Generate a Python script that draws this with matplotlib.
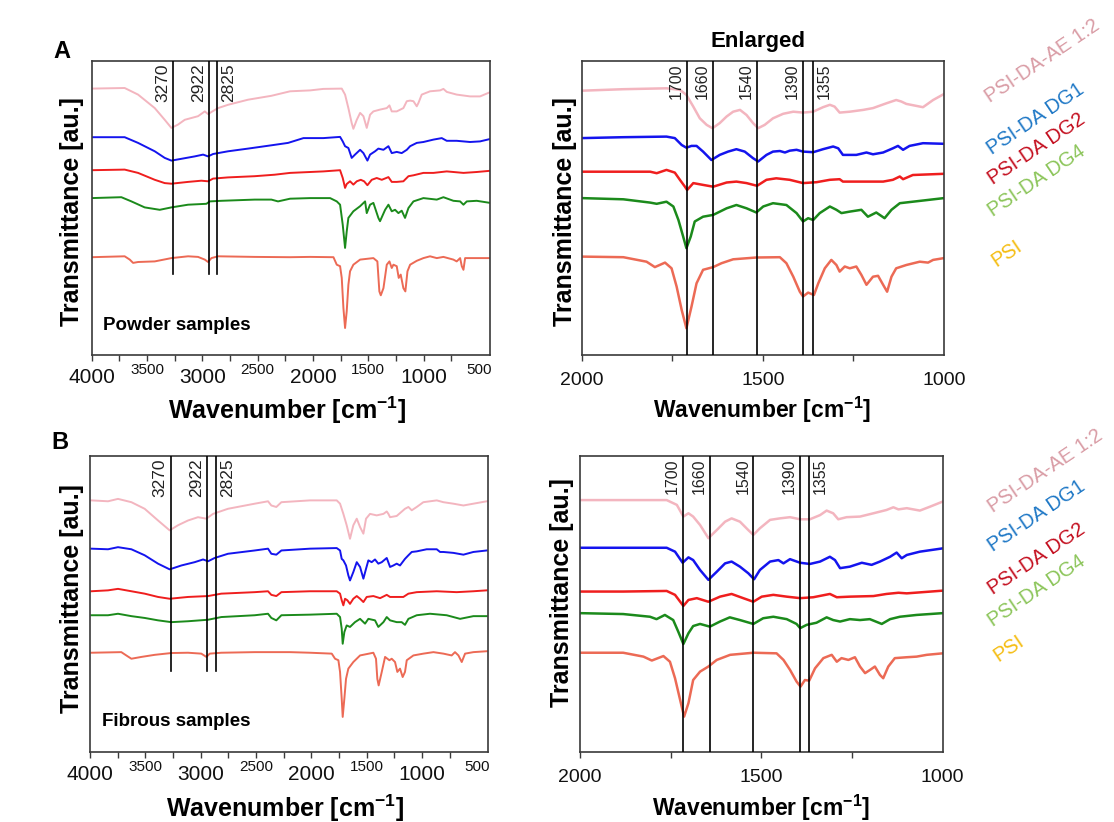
import matplotlib
matplotlib.use("Agg")
import matplotlib.pyplot as plt

plt.rcParams['font.family'] = ['Liberation Sans', 'DejaVu Sans']
plt.rcParams['mathtext.fontset'] = 'custom'
plt.rcParams['mathtext.rm'] = 'Liberation Sans'
plt.rcParams['mathtext.bf'] = 'Liberation Sans:bold'

# ---------------- powder samples, full range (panel A, left) ----------------
pw_ae_x = [4003, 3702, 3581, 3430, 3340, 3280, 3220, 3159, 3099, 3039, 2978, 2948, 2918, 2858, 2768, 2587, 2376,
           2207, 2026, 1906, 1740, 1710, 1680, 1650, 1635, 1604, 1574, 1544, 1514, 1484, 1454, 1394, 1333, 1309,
           1288, 1243, 1183, 1152, 1122, 1092, 1062, 1047, 1017, 942, 851, 821, 791, 701, 580, 490, 400]
pw_ae_y = [89.8, 90.0, 87.8, 83.3, 79.4, 76.7, 77.8, 79.4, 80.0, 80.6, 82.2, 81.3, 82.0, 83.3, 84.4, 86.1, 87.4,
           88.9, 89.2, 89.7, 89.8, 87.8, 83.3, 78.3, 76.4, 79.4, 81.7, 80.6, 76.7, 81.1, 82.2, 82.8, 83.3, 84.2,
           82.2, 82.2, 83.3, 85.6, 85.8, 85.6, 83.9, 85.0, 87.8, 88.9, 89.2, 89.7, 88.7, 87.8, 87.2, 87.2, 88.6]

pw_dg1_x = [4003, 3702, 3581, 3430, 3340, 3280, 3189, 3069, 2993, 2948, 2903, 2768, 2587, 2376, 2225,
            2086, 1906, 1755, 1731, 1710, 1680, 1650, 1620, 1574, 1544, 1508, 1484, 1439, 1409, 1363, 1318,
            1288, 1243, 1198, 1152, 1122, 1062, 1002, 911, 836, 791, 701, 580, 490, 399]
pw_dg1_y = [73.6, 73.6, 71.7, 68.9, 66.7, 65.8, 66.4, 67.2, 67.8, 67.2, 68.0, 68.9, 69.8, 70.9, 71.7,
            73.3, 73.3, 73.7, 72.2, 70.6, 70.0, 66.7, 67.8, 69.4, 68.3, 65.8, 67.8, 68.9, 69.8, 69.4, 70.6,
            68.3, 68.7, 68.3, 69.4, 70.6, 71.7, 72.0, 72.8, 73.3, 72.4, 72.4, 72.0, 72.2, 73.0]

pw_dg2_x = [4003, 3702, 3581, 3430, 3340, 3280, 3129, 3009, 2948, 2903, 2768, 2527, 2346,
            2207, 2026, 1906, 1755, 1731, 1710, 1695, 1665, 1635, 1604, 1568, 1538, 1508, 1469, 1424, 1378,
            1318, 1288, 1243, 1183, 1137, 1092, 1002, 911, 791, 640, 520, 399]
pw_dg2_y = [62.6, 62.8, 61.7, 59.4, 58.3, 58.1, 58.7, 59.1, 58.9, 59.8, 60.2, 60.6, 61.1,
            61.7, 62.0, 62.2, 62.6, 60.0, 56.7, 58.0, 58.9, 57.8, 58.9, 59.4, 58.9, 57.6, 59.4, 60.0, 59.4,
            60.3, 58.7, 58.7, 58.9, 60.6, 60.9, 61.7, 61.7, 62.2, 61.7, 62.0, 62.4]

pw_dg4_x = [4003, 3732, 3641, 3521, 3385, 3280, 3129, 2963, 2933, 2828, 2527, 2376, 2316,
            2207, 2026, 1845, 1785, 1755, 1731, 1710, 1695, 1680, 1635, 1574, 1529, 1514, 1484, 1454, 1409,
            1394, 1348, 1318, 1288, 1258, 1228, 1198, 1168, 1137, 1092, 1002, 881, 821, 731, 670, 640, 610,
            520, 399]
pw_dg4_y = [53.3, 53.6, 52.2, 50.2, 49.4, 50.2, 51.1, 51.4, 52.2, 52.4, 52.8, 52.8, 52.2,
            53.1, 53.3, 53.3, 52.2, 51.1, 44.4, 36.7, 42.2, 46.7, 48.9, 50.6, 52.2, 48.3, 51.1, 51.7, 46.7,
            45.6, 49.4, 51.1, 48.9, 49.4, 48.3, 49.1, 46.7, 50.0, 52.2, 53.3, 52.8, 53.6, 52.4, 52.2, 51.1, 52.2,
            52.4, 51.7]

pw_psi_x = [4003, 3702, 3656, 3626, 3581, 3430, 3280, 3129, 3039, 2978, 2948, 2918, 2858, 2527,
            2207, 2026, 1815, 1785, 1755, 1740, 1725, 1710, 1695, 1680, 1665, 1635, 1574, 1454, 1418, 1400,
            1387, 1363, 1333, 1309, 1288, 1273, 1243, 1225, 1207, 1183, 1165, 1146, 1122, 1062, 1002, 942,
            881, 821, 731, 701, 670, 655, 640, 625, 520, 399]
pw_psi_y = [33.6, 33.9, 32.8, 31.7, 32.0, 32.2, 33.3, 33.9, 33.7, 32.8, 32.0, 33.3, 33.9, 33.7,
            33.6, 33.7, 33.6, 31.1, 30.6, 26.7, 16.7, 10.0, 15.6, 24.4, 28.9, 31.1, 32.8, 33.3, 32.2, 22.2,
            20.9, 23.3, 31.1, 32.2, 30.0, 31.1, 30.6, 26.7, 27.8, 23.3, 22.2, 28.9, 31.1, 32.4, 33.3, 33.9,
            33.3, 33.7, 32.8, 32.2, 33.3, 30.6, 29.4, 33.3, 33.3, 33.3]

# ---------------- powder samples, 2000-1000 (panel A, right) ----------------
pz_ae_x = [2000, 1885, 1766, 1729, 1711, 1692, 1674, 1655, 1639, 1619, 1600, 1582, 1563, 1545, 1527, 1513, 1495,
           1472, 1444, 1416, 1389, 1361, 1334, 1315, 1302, 1288, 1260, 1223, 1196, 1159, 1132, 1118, 1104, 1058,
           1030, 1000]
pz_ae_y = [76.4, 76.9, 77.2, 76.7, 75.0, 71.1, 67.2, 65.0, 63.9, 65.6, 67.8, 69.4, 70.0, 68.3, 65.6, 63.9, 65.0,
           67.2, 68.7, 69.4, 69.1, 69.4, 70.9, 71.7, 71.1, 69.1, 69.4, 70.0, 70.6, 72.2, 73.3, 72.8, 72.0, 70.9,
           73.3, 75.3]

pz_dg1_x = [2000, 1885, 1766, 1743, 1724, 1711, 1697, 1683, 1665, 1642, 1619, 1596, 1573, 1550, 1527, 1513, 1490,
            1472, 1453, 1439, 1426, 1407, 1389, 1361, 1334, 1306, 1292, 1279, 1242, 1214, 1196, 1168, 1141, 1127,
            1113, 1095, 1058, 1000]
pz_dg1_y = [60.6, 60.9, 61.1, 60.6, 58.3, 57.4, 58.0, 58.0, 56.1, 53.3, 55.0, 56.1, 56.9, 56.1, 53.9, 52.8, 55.0,
            56.1, 56.3, 55.8, 56.4, 56.7, 56.1, 55.9, 56.9, 57.8, 57.2, 55.0, 55.0, 55.8, 55.2, 55.8, 57.2, 58.0,
            56.7, 58.0, 58.9, 58.7]

pz_dg2_x = [2000, 1885, 1811, 1793, 1766, 1743, 1729, 1715, 1709, 1692, 1665, 1637, 1600, 1573, 1545, 1516, 1490,
            1463, 1426, 1389, 1352, 1315, 1288, 1279, 1233, 1168, 1141, 1122, 1113, 1086, 1000]
pz_dg2_y = [49.4, 49.4, 49.4, 48.9, 50.0, 49.1, 46.7, 44.4, 43.3, 45.6, 45.0, 44.4, 45.8, 46.1, 45.6, 44.7, 46.7,
            47.2, 46.7, 45.6, 45.9, 46.7, 46.9, 46.1, 46.1, 46.1, 46.7, 47.8, 46.9, 48.3, 48.7]

pz_dg4_x = [2000, 1885, 1811, 1793, 1766, 1747, 1733, 1720, 1711, 1699, 1688, 1665, 1637, 1600, 1573, 1545, 1518,
            1499, 1472, 1435, 1407, 1389, 1375, 1361, 1343, 1315, 1297, 1283, 1260, 1228, 1210, 1187, 1164, 1145,
            1122, 1086, 1000]
pz_dg4_y = [40.6, 40.2, 39.1, 38.7, 39.4, 37.8, 33.3, 27.8, 23.9, 27.8, 32.8, 34.4, 35.0, 37.2, 38.3, 37.2, 35.8,
            37.8, 38.9, 38.3, 35.6, 32.8, 33.9, 33.3, 35.6, 37.8, 36.7, 35.6, 36.1, 36.7, 34.4, 35.8, 33.9, 36.7,
            38.9, 39.4, 40.6]

pz_psi_x = [2000, 1885, 1821, 1798, 1770, 1752, 1738, 1724, 1711, 1697, 1683, 1665, 1637, 1614, 1582, 1518, 1453,
            1435, 1416, 1398, 1389, 1375, 1359, 1347, 1329, 1311, 1297, 1288, 1274, 1260, 1242, 1228, 1214, 1196,
            1182, 1168, 1157, 1145, 1132, 1104, 1067, 1044, 1030, 1000]
pz_psi_y = [21.1, 20.9, 19.4, 17.6, 19.1, 17.2, 11.1, 3.3, -2.8, 4.4, 12.2, 16.7, 17.6, 18.9, 20.2, 20.8, 20.9,
            18.9, 14.4, 9.4, 7.8, 9.1, 8.3, 12.2, 17.2, 20.0, 18.3, 16.1, 17.8, 17.2, 17.8, 15.0, 11.7, 14.4,
            14.7, 11.7, 9.4, 14.4, 17.2, 18.3, 19.4, 19.1, 20.0, 20.6]

# ---------------- fibrous samples, full range (panel B, left) ----------------
fw_ae_x = [3988, 3837, 3747, 3626, 3506, 3385, 3280, 3205, 3114, 3024, 2948, 2888, 2753, 2511, 2391, 2361, 2316,
           2270, 2011, 1770, 1740, 1710, 1680, 1650, 1620, 1589, 1559, 1529, 1505, 1469, 1409, 1348, 1318, 1303,
           1288, 1228, 1153, 1122, 1092, 1047, 987, 866, 806, 716, 625, 535, 414]
fw_ae_y = [83.9, 83.6, 84.4, 83.3, 81.1, 77.2, 73.9, 75.6, 77.2, 78.3, 77.8, 79.4, 81.1, 82.8, 83.6, 82.2, 81.7,
           83.3, 83.9, 83.9, 82.8, 79.4, 75.6, 71.1, 75.6, 77.8, 75.0, 72.8, 77.8, 79.4, 78.9, 79.4, 80.2, 79.4,
           78.3, 78.7, 81.1, 81.7, 80.6, 81.7, 83.3, 83.9, 83.3, 82.8, 82.2, 82.8, 83.6]

fw_dg1_x = [3988, 3837, 3747, 3626, 3506, 3385, 3280, 3174, 3054, 2978, 2933, 2873, 2753, 2511, 2391, 2361, 2316,
            2270, 2011, 1770, 1740, 1725, 1710, 1686, 1665, 1650, 1620, 1589, 1559, 1529, 1505, 1484, 1454, 1424,
            1394, 1363, 1318, 1288, 1258, 1228, 1198, 1153, 1122, 1092, 1047, 957, 866, 836, 806, 716, 625, 535,
            414]
fw_dg1_y = [67.8, 67.6, 68.3, 67.6, 65.6, 62.8, 60.9, 62.2, 63.3, 64.2, 63.6, 64.7, 66.1, 67.2, 67.8, 66.1, 65.8,
            67.2, 67.8, 68.0, 67.2, 64.4, 63.9, 62.2, 58.9, 57.2, 60.0, 63.3, 61.7, 57.8, 61.1, 63.9, 63.3, 64.2,
            62.8, 63.3, 64.7, 61.7, 62.2, 62.8, 62.2, 64.4, 65.6, 66.7, 66.9, 67.6, 67.6, 66.7, 66.7, 66.4, 65.8,
            66.7, 67.2]

fw_dg2_x = [3988, 3837, 3747, 3626, 3506, 3385, 3280, 3114, 2933, 2813, 2511, 2391, 2361, 2316, 2270,
            2011, 1770, 1740, 1725, 1710, 1695, 1674, 1650, 1620, 1589, 1559, 1529, 1499, 1439, 1378, 1318,
            1288, 1228, 1168, 1122, 1047, 866, 686, 535, 414]
fw_dg2_y = [53.6, 53.9, 54.4, 53.6, 52.8, 51.7, 51.1, 51.7, 52.0, 52.8, 53.3, 53.6, 52.4, 52.0, 53.3,
            53.6, 53.6, 52.8, 50.6, 48.9, 51.1, 50.6, 49.4, 51.1, 52.0, 51.1, 50.0, 51.7, 52.0, 51.3, 52.4,
            51.7, 51.7, 51.7, 52.8, 53.3, 53.6, 53.3, 53.6, 53.9]

fw_dg4_x = [3988, 3837, 3747, 3626, 3506, 3385, 3265, 3114, 2933, 2813, 2511, 2391, 2361, 2316, 2270,
            2011, 1770, 1740, 1725, 1716, 1701, 1680, 1650, 1605, 1559, 1514, 1484, 1424, 1394, 1348, 1318,
            1288, 1228, 1183, 1153, 1122, 1047, 927, 776, 655, 535, 414]
fw_dg4_y = [45.6, 45.6, 46.1, 45.3, 44.7, 43.9, 43.3, 43.6, 44.1, 45.0, 45.6, 46.1, 44.7, 43.9, 45.6,
            45.8, 46.1, 45.0, 41.1, 36.1, 40.0, 42.2, 41.7, 43.3, 44.4, 42.8, 44.4, 43.9, 41.7, 43.3, 45.0,
            43.9, 43.3, 43.3, 42.4, 44.4, 45.6, 46.1, 45.6, 44.4, 45.3, 45.3]

fw_psi_x = [3988, 3717, 3672, 3626, 3536, 3415, 3265, 3114, 2994, 2948, 2918, 2813, 2511,
            2192, 2011, 1815, 1785, 1755, 1740, 1725, 1716, 1701, 1686, 1665, 1620, 1559, 1439, 1415, 1403,
            1391, 1363, 1333, 1312, 1294, 1273, 1243, 1222, 1198, 1174, 1153, 1137, 1077, 987, 896, 806, 731,
            701, 670, 640, 610, 535, 414]
fw_psi_y = [33.1, 33.3, 32.2, 31.1, 31.7, 32.4, 33.0, 33.1, 32.8, 31.7, 32.8, 33.1, 33.3,
            33.3, 33.1, 32.8, 31.1, 30.6, 26.7, 17.8, 11.7, 17.8, 24.4, 27.8, 30.0, 32.2, 33.1, 31.1, 24.4,
            22.2, 26.7, 31.7, 31.1, 30.6, 31.1, 30.0, 26.7, 27.8, 25.0, 26.7, 30.6, 32.2, 32.8, 33.3, 32.8, 32.2,
            33.3, 32.2, 30.0, 32.8, 33.3, 33.6]

# ---------------- fibrous samples, 2000-1000 (panel B, right) ----------------
fz_ae_x = [2000, 1881, 1761, 1733, 1715, 1701, 1688, 1669, 1646, 1623, 1600, 1582, 1559, 1536, 1522, 1504, 1476,
           1449, 1421, 1393, 1366, 1338, 1320, 1302, 1288, 1265, 1228, 1191, 1155, 1136, 1122, 1099, 1063, 1035,
           1000]
fz_ae_y = [73.3, 73.3, 73.3, 71.7, 67.8, 68.9, 67.8, 65.0, 60.6, 63.3, 66.1, 67.2, 66.1, 63.3, 61.7, 63.9, 66.7,
           67.2, 67.6, 66.9, 66.9, 68.3, 69.8, 68.9, 66.9, 67.6, 67.8, 68.9, 70.0, 70.9, 70.2, 70.6, 69.8, 71.1,
           72.8]

fz_dg1_x = [2000, 1881, 1761, 1738, 1717, 1701, 1688, 1669, 1646, 1623, 1600, 1582, 1559, 1536, 1520, 1504, 1476,
            1453, 1439, 1421, 1393, 1366, 1338, 1311, 1297, 1283, 1256, 1223, 1196, 1173, 1145, 1127, 1113, 1099,
            1063, 1000]
fz_dg1_y = [57.4, 57.4, 57.4, 56.1, 52.4, 54.2, 53.3, 50.0, 46.7, 49.4, 52.2, 52.8, 51.1, 48.9, 46.9, 50.0, 52.8,
            53.3, 52.2, 53.6, 52.4, 52.0, 52.8, 54.4, 53.3, 50.6, 51.1, 52.4, 51.7, 52.8, 54.4, 55.8, 53.9, 55.0,
            56.1, 57.2]

fz_dg2_x = [2000, 1881, 1761, 1738, 1715, 1701, 1678, 1646, 1614, 1582, 1550, 1522, 1499, 1467, 1430, 1393, 1357,
            1311, 1292, 1256, 1191, 1155, 1122, 1099, 1000]
fz_dg2_y = [42.8, 42.8, 43.0, 41.7, 38.0, 40.0, 40.6, 39.4, 41.1, 42.0, 40.6, 39.4, 41.1, 41.7, 41.1, 40.6, 40.9,
            42.0, 40.9, 41.1, 41.3, 42.0, 42.4, 42.2, 43.1]

fz_dg4_x = [2000, 1881, 1807, 1789, 1766, 1743, 1729, 1715, 1701, 1688, 1669, 1642, 1614, 1587, 1559, 1522, 1495,
            1467, 1430, 1403, 1393, 1375, 1348, 1320, 1302, 1283, 1256, 1228, 1201, 1168, 1145, 1118, 1072, 1000]
fz_dg4_y = [35.6, 35.3, 34.4, 33.6, 35.0, 33.3, 29.4, 25.3, 28.9, 31.3, 32.0, 31.1, 32.8, 34.2, 33.3, 32.0, 33.9,
            34.4, 33.6, 32.0, 30.6, 31.7, 32.4, 34.2, 33.3, 32.8, 33.6, 33.3, 33.6, 32.0, 33.6, 34.4, 35.0, 35.6]

fz_psi_x = [2000, 1881, 1825, 1802, 1770, 1752, 1738, 1724, 1713, 1701, 1688, 1669, 1646, 1623, 1586, 1522, 1458,
            1439, 1421, 1403, 1392, 1380, 1368, 1352, 1329, 1306, 1292, 1279, 1260, 1242, 1228, 1214, 1200, 1187,
            1173, 1164, 1150, 1132, 1099, 1072, 1044, 1000]
fz_psi_y = [22.4, 22.4, 21.1, 19.8, 21.3, 19.4, 13.9, 6.7, 1.1, 5.6, 13.3, 16.1, 17.8, 20.0, 21.7, 22.4, 22.2,
            20.0, 16.7, 12.8, 11.1, 13.3, 13.1, 17.2, 20.6, 21.7, 19.4, 20.6, 20.0, 20.9, 17.8, 15.6, 16.7, 17.8,
            15.0, 13.9, 17.8, 20.6, 20.9, 21.1, 21.7, 22.2]

# marker lines (drawn where they sit in the figure) and their labels
wide_peaks_a = [3265, 2942, 2864]
wide_peaks_b = [3271, 2942, 2858]
wide_peak_labels = ["3270", "2922", "2825"]
zoom_peaks_a = [1710, 1637, 1516, 1389, 1361]
zoom_peaks_b = [1717, 1642, 1522, 1393, 1368]
zoom_peak_labels = ["1700", "1660", "1540", "1390", "1355"]

wide_major_ticks = [4000, 3000, 2000, 1000]
wide_minor_ticks = [3500, 2500, 1500, 500]
zoom_tick_labels = [2000, 1500, 1000]

samples = ["PSI-DA-AE 1:2", "PSI-DA DG1", "PSI-DA DG2", "PSI-DA DG4", "PSI"]
line_colors = ['#f3b5bf', '#1414ee', '#ef1e1e', '#1b8a1b', '#ec6a55']
label_colors = ['#d99ca5', '#1f78c6', '#c40f1f', '#8cc55a', '#f5bd12']

W, H = 1114, 822
fig = plt.figure(figsize=(W / 100, H / 100), dpi=100)
fig.patch.set_facecolor('white')


def px_axes(left, top, right, bottom):
    return fig.add_axes([left / W, 1 - bottom / H, (right - left) / W, (bottom - top) / H])


def base_style(ax, xlim, ylim, step):
    ax.set_xlim(*xlim)
    ax.set_ylim(*ylim)
    ax.set_yticks([])
    ax.set_xticks(list(range(xlim[0], xlim[1] if xlim[1] % step == 0 else xlim[1] + 100, -step)))
    ax.tick_params(axis='x', direction='out', length=4, width=1, color='#3a3a3a', labelbottom=False)
    for s in ax.spines.values():
        s.set_color('#3a3a3a')
        s.set_linewidth(1.2)


def peak_lines(ax, peaks, labels, ymin, fs):
    # the last label of each group sits to the right of its line
    for i, (p, lab) in enumerate(zip(peaks, labels)):
        ax.axvline(p, ymin=ymin, ymax=1, color='black', lw=1.2, zorder=3)
        right = i == len(peaks) - 1
        ax.annotate(lab, xy=(p, 1), xycoords=('data', 'axes fraction'),
                    xytext=(4 if right else -3, -3), textcoords='offset pixels', rotation=90,
                    ha='left' if right else 'right', va='top', fontsize=fs, color='#222222')


def tick_text(ax, values, size, off):
    for v in values:
        ax.annotate(str(v), xy=(v, 0), xycoords=('data', 'axes fraction'), xytext=(0, -off),
                    textcoords='offset pixels', ha='center', va='top', fontsize=size, color='#111111')


def wide_panel(ax, curves, peaks, ylim, ylab_pos, xlab_pos, note, note_y):
    for (x, y), c in zip(curves, line_colors):
        ax.plot(x, y, color=c, lw=1.4)
    base_style(ax, (4000, 400), ylim, 250)
    peak_lines(ax, peaks, wide_peak_labels, 0.274, 12.5)
    tick_text(ax, wide_major_ticks, 15, 13)
    tick_text(ax, wide_minor_ticks, 11, 8)
    ax.text(ylab_pos[0], ylab_pos[1], "Transmittance [au.]", transform=ax.transAxes, rotation=90,
            ha='center', va='center', fontsize=18, fontweight='bold')
    ax.text(xlab_pos[0], xlab_pos[1], r"Wavenumber [cm$^{\mathbf{-1}}$]", transform=ax.transAxes,
            ha='center', va='center', fontsize=18, fontweight='bold')
    ax.text(0.029, note_y, note, transform=ax.transAxes, ha='left', va='center',
            fontsize=13.5, fontweight='bold')


def zoom_panel(ax, curves, peaks, ylim, ylab_pos, xlab_pos):
    for (x, y), c in zip(curves, line_colors):
        ax.plot(x, y, color=c, lw=1.8)
    base_style(ax, (2000, 1000), ylim, 250)
    peak_lines(ax, peaks, zoom_peak_labels, 0, 11.5)
    tick_text(ax, zoom_tick_labels, 14, 17)
    ax.text(ylab_pos[0], ylab_pos[1], "Transmittance [au.]", transform=ax.transAxes, rotation=90,
            ha='center', va='center', fontsize=18, fontweight='bold')
    ax.text(xlab_pos[0], xlab_pos[1], r"Wavenumber [cm$^{\mathbf{-1}}$]", transform=ax.transAxes,
            ha='center', va='center', fontsize=16.5, fontweight='bold')


def side_labels(anchors):
    for (x, y), name, c in zip(anchors, samples, label_colors):
        fig.text(x / W, 1 - y / H, name, rotation=34, rotation_mode='anchor', ha='left',
                 va='baseline', fontsize=14.5, color=c)


ax_tl = px_axes(91.7, 60.7, 490, 355)
wide_panel(ax_tl,
           [(pw_ae_x, pw_ae_y), (pw_dg1_x, pw_dg1_y), (pw_dg2_x, pw_dg2_y), (pw_dg4_x, pw_dg4_y),
            (pw_psi_x, pw_psi_y)],
           wide_peaks_a, (1, 99.1), (-0.05, 0.487), (0.49, -0.187), "Powder samples", 0.10)

ax_tr = px_axes(581.7, 60.7, 944, 355)
zoom_panel(ax_tr,
           [(pz_ae_x, pz_ae_y), (pz_dg1_x, pz_dg1_y), (pz_dg2_x, pz_dg2_y), (pz_dg4_x, pz_dg4_y),
            (pz_psi_x, pz_psi_y)],
           zoom_peaks_a, (-11.7, 86.4), (-0.046, 0.486), (0.497, -0.187))

ax_bl = px_axes(90, 455.7, 488.3, 751.7)
wide_panel(ax_bl,
           [(fw_ae_x, fw_ae_y), (fw_dg1_x, fw_dg1_y), (fw_dg2_x, fw_dg2_y), (fw_dg4_x, fw_dg4_y),
            (fw_psi_x, fw_psi_y)],
           wide_peaks_b, (0.1, 98.8), (-0.046, 0.519), (0.49, -0.19), "Fibrous samples", 0.102)

ax_br = px_axes(580, 455.7, 942.7, 751.7)
zoom_panel(ax_br,
           [(fz_ae_x, fz_ae_y), (fz_dg1_x, fz_dg1_y), (fz_dg2_x, fz_dg2_y), (fz_dg4_x, fz_dg4_y),
            (fz_psi_x, fz_psi_y)],
           zoom_peaks_b, (-10.6, 88.1), (-0.05, 0.536), (0.50, -0.19))

side_labels([(990, 103), (991.7, 155), (993.3, 185), (993.3, 216.7), (996.7, 266.7)])
side_labels([(993.3, 513.3), (993.3, 551.7), (993.3, 595), (993.3, 626.7), (998.3, 661.7)])

fig.text(62 / W, 1 - 51 / H, "A", ha='center', va='center', fontsize=17, fontweight='bold')
fig.text(60 / W, 1 - 442 / H, "B", ha='center', va='center', fontsize=17, fontweight='bold')
fig.text(758 / W, 1 - 41 / H, "Enlarged", ha='center', va='center', fontsize=16, fontweight='bold')

fig.savefig("out.png", dpi=100, facecolor='white')
